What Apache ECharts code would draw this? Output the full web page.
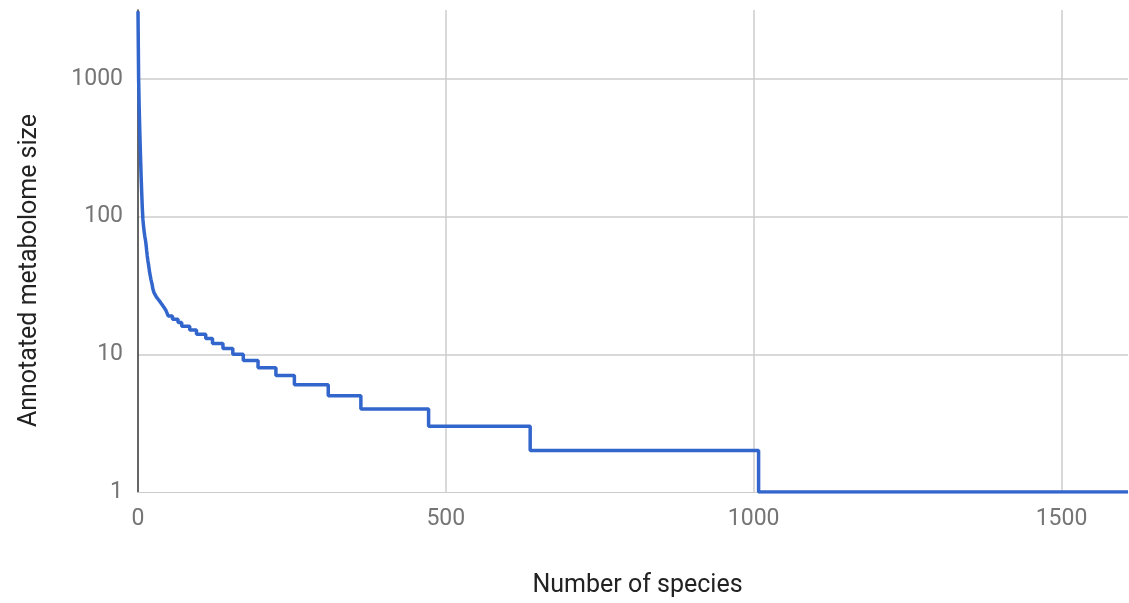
<!DOCTYPE html>
<html>
<head>
<meta charset="utf-8">
<script src="https://cdn.jsdelivr.net/npm/echarts@6/dist/echarts.min.js"></script>
<style>
html,body{margin:0;padding:0;background:#fff;}
#chart{width:1129px;height:603px;}
</style>
</head>
<body>
<div id="chart"></div>
<script>
// Species rank where each level begins, and the annotated metabolome size at that level
const speciesRank = [0, 1, 2, 3, 4, 5, 6, 7, 8, 9, 10, 11, 12, 13, 14, 15, 16, 17, 18, 19, 20, 21, 23, 24, 26, 28, 30, 33, 36, 39, 42, 45, 47, 49, 56, 65, 71, 84, 95, 110, 121, 138, 154, 171, 195, 224, 254, 309, 362, 472, 637, 1008, 1608];
const metabolomeSize = [3100, 1000, 600, 400, 280, 200, 150, 115, 95, 85, 78, 72, 68, 63, 57, 52, 48, 45, 42, 39, 37, 35, 32, 30, 28, 27, 26, 25, 24, 23, 22, 21, 20, 19, 18, 17, 16, 15, 14, 13, 12, 11, 10, 9, 8, 7, 6, 5, 4, 3, 2, 1, 1];
const xTicks = [0, 500, 1000, 1500];
const yTicks = [1, 10, 100, 1000];
const xTitle = 'Number of species';
const yTitle = 'Annotated metabolome size';

const seriesData = speciesRank.map((x, i) => [x, metabolomeSize[i]]);

const chart = echarts.init(document.getElementById('chart'), null, {renderer: 'canvas'});
chart.setOption({
  animation: false,
  grid: {left: 138, right: 1, top: 10, bottom: 111, containLabel: false},
  xAxis: {
    type: 'value',
    min: 0,
    max: 1608,
    interval: 500,
    name: xTitle,
    nameLocation: 'middle',
    nameGap: 81,
    nameTextStyle: {fontFamily: 'Roboto', fontSize: 25, color: '#222222', padding: [0, 0, 0, 9]},
    axisLine: {show: true, onZero: false, lineStyle: {color: '#cccccc', width: 1}},
    axisTick: {show: false},
    axisLabel: {
      fontFamily: 'Roboto', fontSize: 23, color: '#757575', margin: 16,
      showMaxLabel: false,
      formatter: v => xTicks.includes(v) ? String(v) : ''
    },
    splitLine: {show: true, showMinLine: false, showMaxLine: false, lineStyle: {color: '#cccccc', width: 1.5}}
  },
  yAxis: {
    type: 'log',
    logBase: 10,
    min: 1,
    max: 3162,
    name: yTitle,
    nameLocation: 'middle',
    nameGap: 96,
    nameTextStyle: {fontFamily: 'Roboto', fontSize: 25, color: '#222222', padding: [0, 39, 0, 0]},
    axisLine: {show: true, lineStyle: {color: '#333333', width: 1.5}},
    axisTick: {show: false},
    axisLabel: {
      fontFamily: 'Roboto', fontSize: 23, color: '#757575', margin: 15,
      showMaxLabel: false,
      formatter: v => yTicks.includes(Math.round(v)) ? String(Math.round(v)) : ''
    },
    splitLine: {show: true, showMinLine: false, showMaxLine: false, lineStyle: {color: '#cccccc', width: 1.5}}
  },
  series: [{
    type: 'line',
    step: 'end',
    data: seriesData,
    showSymbol: false,
    symbol: 'none',
    lineStyle: {color: '#3366cc', width: 3.5},
    clip: true
  }]
});
</script>
</body>
</html>
